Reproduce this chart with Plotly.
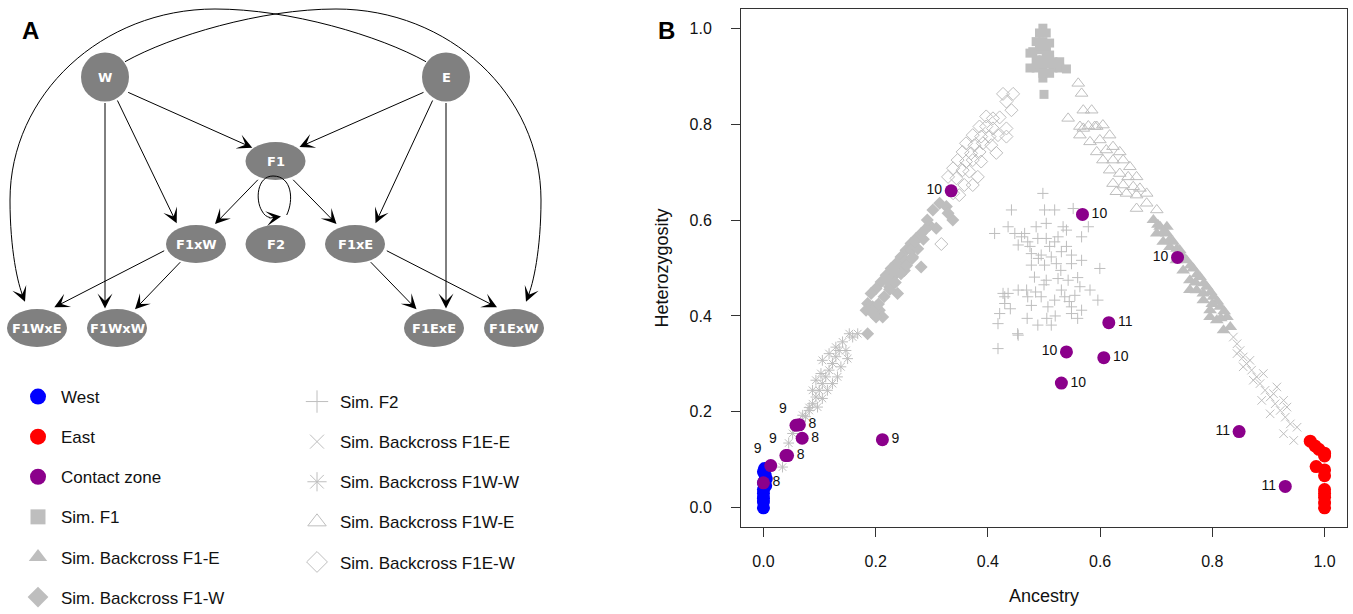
import plotly.graph_objects as go

# ======================= Panel B data =======================
west_x = [0.0, 0.0, 0.0, 0.0, 0.0, 0.004, 0.0, 0.005, 0.003, 0.0, 0.002]
west_y = [0.0, 0.012, 0.020, 0.030, 0.038, 0.046, 0.052, 0.060, 0.068, 0.075, 0.082]

east_x = [0.9745, 0.983, 0.990, 1.0, 1.0, 0.985, 1.0, 1.0, 1.0, 1.0, 1.0, 1.0, 1.0]
east_y = [0.139, 0.129, 0.122, 0.114, 0.108, 0.086, 0.079, 0.067, 0.038, 0.030, 0.022, 0.010, 0.0]

contact_x = [0.3346, 0.5686, 0.738, 0.6155, 0.540, 0.6066, 0.531, 0.8477, 0.930,
             0.058, 0.040, 0.013, 0.212, 0.064, 0.069, 0.043, 0.0]
contact_y = [0.661, 0.6117, 0.522, 0.386, 0.325, 0.313, 0.260, 0.159, 0.0445,
             0.172, 0.109, 0.088, 0.142, 0.173, 0.145, 0.109, 0.052]
contact_label = ["10", "10", "10", "11", "10", "10", "10", "11", "11",
                 "9", "9", "9", "9", "8", "8", "8", "8"]
contact_label_pos = ["middle left", "middle right", "middle left", "middle right", "middle left",
                     "middle right", "middle right", "middle left", "middle left",
                     "top left", "top left", "top left", "middle right",
                     "middle right", "middle right", "middle right", "middle right"]

f1_x = [0.498, 0.492, 0.504, 0.486, 0.498, 0.510, 0.480, 0.492, 0.504, 0.475, 0.516, 0.528, 0.486,
        0.498, 0.510, 0.475, 0.486, 0.498, 0.516, 0.528, 0.540, 0.498, 0.500, 0.492, 0.504, 0.510,
        0.522, 0.492, 0.504, 0.498, 0.510]
f1_y = [1.000, 0.990, 0.990, 0.972, 0.972, 0.969, 0.951, 0.955, 0.951, 0.948, 0.930, 0.930, 0.934,
        0.934, 0.934, 0.917, 0.917, 0.913, 0.917, 0.917, 0.915, 0.896, 0.862, 0.962, 0.962, 0.944,
        0.925, 0.925, 0.925, 0.906, 0.906]

bc_f1e_x = [0.695, 0.707, 0.719, 0.730, 0.742, 0.754, 0.766, 0.778, 0.790, 0.802, 0.814, 0.826, 0.832,
            0.701, 0.7125, 0.7245, 0.736, 0.748, 0.760, 0.772, 0.784, 0.796, 0.808, 0.820, 0.719,
            0.760, 0.784, 0.796, 0.703, 0.713, 0.725, 0.737, 0.749, 0.761, 0.773, 0.785, 0.797,
            0.809, 0.821, 0.740, 0.770, 0.800, 0.815]
bc_f1e_y = [0.600, 0.586, 0.572, 0.5545, 0.537, 0.516, 0.499, 0.481, 0.461, 0.440, 0.419, 0.398, 0.377,
            0.572, 0.5545, 0.544, 0.516, 0.495, 0.4745, 0.4537, 0.433, 0.412, 0.391, 0.370, 0.586,
            0.454, 0.447, 0.398, 0.590, 0.575, 0.560, 0.540, 0.522, 0.505, 0.487, 0.468, 0.450,
            0.430, 0.410, 0.530, 0.470, 0.425, 0.395]

bc_f1w_x = [0.302, 0.314, 0.326, 0.3375, 0.329, 0.296, 0.308, 0.290, 0.281, 0.272, 0.263, 0.254, 0.245,
            0.236, 0.2275, 0.2186, 0.2096, 0.2007, 0.1918, 0.1857, 0.1829, 0.1946, 0.2066, 0.2125,
            0.2007, 0.2423, 0.254, 0.266, 0.281, 0.239, 0.2245, 0.2304, 0.2512, 0.263, 0.1857, 0.2007,
            0.215, 0.225, 0.235, 0.245, 0.255, 0.265, 0.275, 0.285, 0.195, 0.205, 0.220, 0.232,
            0.270, 0.292]
bc_f1w_y = [0.621, 0.635, 0.628, 0.600, 0.614, 0.589, 0.583, 0.5825, 0.572, 0.5616, 0.551, 0.537, 0.523,
            0.509, 0.499, 0.485, 0.471, 0.457, 0.447, 0.426, 0.412, 0.419, 0.412, 0.398,
            0.398, 0.509, 0.516, 0.523, 0.502, 0.447, 0.461, 0.481, 0.495, 0.537, 0.363, 0.419,
            0.440, 0.455, 0.470, 0.488, 0.505, 0.520, 0.540, 0.560, 0.405, 0.425, 0.475, 0.495,
            0.555, 0.600]

f2_x = [0.498, 0.442, 0.501, 0.519, 0.552, 0.412, 0.436, 0.448, 0.4655, 0.486, 0.504, 0.534, 0.540,
        0.579, 0.454, 0.471, 0.489, 0.504, 0.519, 0.567, 0.4775, 0.495, 0.513, 0.531, 0.549, 0.567,
        0.4775, 0.501, 0.522, 0.549, 0.5995, 0.483, 0.504, 0.525, 0.543, 0.564, 0.582, 0.436, 0.469,
        0.471, 0.495, 0.519, 0.537, 0.555, 0.596, 0.430, 0.4775, 0.507, 0.549, 0.567, 0.421, 0.418,
        0.489, 0.513, 0.454, 0.418, 0.454, 0.531, 0.549, 0.427, 0.453, 0.460, 0.475, 0.510, 0.525,
        0.540, 0.490, 0.530, 0.560, 0.500, 0.485, 0.545, 0.430, 0.440, 0.505, 0.560, 0.520, 0.470]
f2_y = [0.6555, 0.621, 0.621, 0.621, 0.624, 0.572, 0.586, 0.572, 0.572, 0.586, 0.593, 0.586, 0.579,
        0.586, 0.548, 0.5545, 0.5616, 0.5616, 0.5545, 0.565, 0.530, 0.527, 0.523, 0.534, 0.527, 0.516,
        0.506, 0.506, 0.509, 0.509, 0.499, 0.481, 0.4745, 0.478, 0.4745, 0.461, 0.454, 0.447, 0.454,
        0.440, 0.440, 0.433, 0.440, 0.443, 0.433, 0.426, 0.422, 0.419, 0.419, 0.412, 0.405, 0.384,
        0.381, 0.381, 0.360, 0.332, 0.454, 0.454, 0.405, 0.447, 0.363, 0.565, 0.545, 0.545, 0.565,
        0.545, 0.520, 0.495, 0.480, 0.465, 0.450, 0.430, 0.440, 0.415, 0.395, 0.395, 0.400, 0.395]

bc_f1ee_x = [0.8375, 0.844, 0.8495, 0.855, 0.861, 0.870, 0.879, 0.885, 0.894, 0.903, 0.912, 0.921,
             0.930, 0.939, 0.945, 0.951, 0.927, 0.909, 0.873, 0.855, 0.844, 0.867, 0.891, 0.915,
             0.933, 0.903, 0.888, 0.927]
bc_f1ee_y = [0.356, 0.342, 0.328, 0.3145, 0.3006, 0.287, 0.273, 0.259, 0.245, 0.231, 0.217, 0.203,
             0.189, 0.175, 0.1405, 0.168, 0.224, 0.238, 0.266, 0.294, 0.3215, 0.3075, 0.280, 0.252,
             0.210, 0.196, 0.224, 0.1545]

bc_f1ww_x = [0.153, 0.141, 0.135, 0.129, 0.123, 0.117, 0.111, 0.105, 0.0995, 0.0935, 0.0875, 0.0816,
             0.147, 0.150, 0.138, 0.132, 0.123, 0.114, 0.105, 0.0964, 0.159, 0.129, 0.117, 0.105,
             0.1025, 0.0935, 0.0875, 0.034, 0.052, 0.070, 0.0815, 0.168, 0.060, 0.075, 0.045]
bc_f1ww_y = [0.363, 0.346, 0.328, 0.315, 0.301, 0.287, 0.273, 0.259, 0.245, 0.231, 0.217, 0.203,
             0.328, 0.311, 0.294, 0.273, 0.259, 0.245, 0.228, 0.210, 0.356, 0.335, 0.3215, 0.3075,
             0.280, 0.266, 0.245, 0.085, 0.155, 0.193, 0.209, 0.363, 0.175, 0.190, 0.135]

bc_f1we_x = [0.561, 0.567, 0.543, 0.570, 0.585, 0.564, 0.579, 0.594, 0.570, 0.564, 0.5905, 0.605,
             0.582, 0.5995, 0.617, 0.611, 0.594, 0.623, 0.635, 0.605, 0.623, 0.641, 0.653, 0.617,
             0.635, 0.650, 0.665, 0.623, 0.641, 0.659, 0.671, 0.629, 0.647, 0.665, 0.683, 0.665,
             0.683, 0.701]
bc_f1we_y = [0.885, 0.864, 0.812, 0.829, 0.829, 0.795, 0.796, 0.795, 0.791, 0.777, 0.795, 0.798,
             0.763, 0.767, 0.777, 0.746, 0.742, 0.753, 0.742, 0.725, 0.725, 0.725, 0.711, 0.704,
             0.697, 0.690, 0.690, 0.676, 0.673, 0.6695, 0.666, 0.659, 0.6555, 0.652, 0.6555, 0.624,
             0.635, 0.621]

bc_f1ew_x = [0.427, 0.445, 0.433, 0.442, 0.397, 0.409, 0.421, 0.385, 0.397, 0.409, 0.433, 0.373,
             0.388, 0.403, 0.418, 0.433, 0.361, 0.376, 0.391, 0.406, 0.355, 0.370, 0.385, 0.415,
             0.346, 0.361, 0.373, 0.388, 0.338, 0.355, 0.367, 0.382, 0.329, 0.344, 0.358, 0.373,
             0.338, 0.349, 0.317]
bc_f1ew_y = [0.863, 0.863, 0.847, 0.829, 0.816, 0.812, 0.814, 0.795, 0.795, 0.791, 0.791, 0.777,
             0.774, 0.774, 0.777, 0.774, 0.760, 0.756, 0.760, 0.756, 0.742, 0.739, 0.742, 0.740,
             0.725, 0.722, 0.725, 0.722, 0.708, 0.704, 0.701, 0.690, 0.690, 0.687, 0.673, 0.673,
             0.656, 0.652, 0.550]

x_ticks = [0.0, 0.2, 0.4, 0.6, 0.8, 1.0]
x_tick_labels = ["0.0", "0.2", "0.4", "0.6", "0.8", "1.0"]
y_ticks = [0.0, 0.2, 0.4, 0.6, 0.8, 1.0]
y_tick_labels = ["0.0", "0.2", "0.4", "0.6", "0.8", "1.0"]

# ======================= Panel A layout (pixel units) =======================
node_names = ["W", "E", "F1", "F1xW", "F2", "F1xE", "F1WxE", "F1WxW", "F1ExE", "F1ExW"]
node_cx = [105, 446, 275.5, 196, 275.5, 355, 37, 117, 434, 514]
node_cy = [77, 77, 161, 244, 244, 244, 328, 328, 328, 328]
node_rx = [24, 24, 30, 30, 30, 30, 30, 30, 30, 30]
node_ry = [24.5, 24.5, 19, 19, 19, 19, 19, 19, 19, 19]

# straight edges: tail (x, y) -> head (x, y)
edge_segments = [
    (126.7, 91.7, 252.3, 147.7),   # W -> F1
    (425.0, 91.7, 299.5, 147.0),   # E -> F1
    (116.7, 99.0, 176.7, 223.3),   # W -> F1xW
    (433.3, 99.0, 375.5, 223.3),   # E -> F1xE
    (105.0, 101.5, 105.0, 308.5),  # W -> F1WxW
    (446.0, 101.5, 446.0, 308.5),  # E -> F1ExE
    (259.3, 178.3, 215.0, 224.0),  # F1 -> F1xW
    (291.7, 178.3, 336.5, 224.0),  # F1 -> F1xE
    (165.7, 250.0, 54.3, 307.3),   # F1xW -> F1WxE
    (181.7, 260.7, 135.0, 309.3),  # F1xW -> F1WxW
    (369.3, 260.7, 416.5, 309.3),  # F1xE -> F1ExE
    (385.3, 250.0, 497.0, 307.3),  # F1xE -> F1ExW
]
# curved edges (SVG paths) and their arrow heads (tail -> tip)
curve_paths = [
    "M 426,61.7 C 380,36 290,9 215,9 C 101.8,9 10,94.5 10,200 C 10,250 18,285 23,296",   # E -> F1WxE
    "M 125,61.7 C 171,36 261,9 336,9 C 449.2,9 541,94.5 541,200 C 541,250 533,285 528,296",  # W -> F1ExW
    "M 286.7,215 C 294,200 292,176 273,176 C 257,176 255,200 262,211 C 264,215 267,217 270,217.5",  # F1 -> F2
]
curve_heads = [
    (21.0, 292.0, 25.0, 301.7),
    (530.0, 292.0, 526.0, 301.7),
    (268.0, 218.3, 281.0, 216.5),
]

GRAY = "#bebebe"
NODE_GRAY = "#808080"
FONT = "Liberation Sans"
W_PX, H_PX = 1353, 614

fig = go.Figure()

# series: name, x, y, symbol, plot size, legend size, legend id, rank, filled
sim_series = [
    ("Sim. F1", f1_x, f1_y, "square", 9, 15, "legend", 4, True),
    ("Sim. Backcross F1-E", bc_f1e_x, bc_f1e_y, "triangle-up", 12, 16, "legend", 5, True),
    ("Sim. Backcross F1-W", bc_f1w_x, bc_f1w_y, "diamond", 10, 16, "legend", 6, True),
    ("Sim. F2", f2_x, f2_y, "cross-thin-open", 8, 16, "legend2", 1, False),
    ("Sim. Backcross F1E-E", bc_f1ee_x, bc_f1ee_y, "x-thin-open", 8.5, 14, "legend2", 2, False),
    ("Sim. Backcross F1W-W", bc_f1ww_x, bc_f1ww_y, "asterisk-open", 9, 16, "legend2", 3, False),
    ("Sim. Backcross F1W-E", bc_f1we_x, bc_f1we_y, "triangle-up-open", 11, 16, "legend2", 4, False),
    ("Sim. Backcross F1E-W", bc_f1ew_x, bc_f1ew_y, "diamond-open", 10, 16, "legend2", 5, False),
]


def marker_for(symbol, size, color, filled):
    if filled:
        return dict(symbol=symbol, size=size, color=color, line=dict(width=0))
    return dict(symbol=symbol, size=size, color=color, line=dict(width=1, color=color))


for name, xs, ys, sym, size, lsize, leg, rank, filled in sim_series:
    fig.add_trace(go.Scatter(x=xs, y=ys, mode="markers", name=name, showlegend=False,
                             marker=marker_for(sym, size, GRAY, filled),
                             xaxis="x", yaxis="y", hoverinfo="skip"))

obs_series = [("West", west_x, west_y, "#0000ff", 1),
              ("East", east_x, east_y, "#ff0000", 2),
              ("Contact zone", contact_x, contact_y, "#8b008b", 3)]
for name, xs, ys, col, rank in obs_series:
    fig.add_trace(go.Scatter(x=xs, y=ys, mode="markers", name=name, showlegend=False,
                             marker=marker_for("circle", 13, col, True),
                             xaxis="x", yaxis="y", hoverinfo="skip"))

# labels of contact-zone points (invisible markers keep the text beside each dot)
fig.add_trace(go.Scatter(x=contact_x, y=contact_y, mode="markers+text", text=contact_label,
                         textposition=contact_label_pos, showlegend=False,
                         marker=dict(size=13, color="rgba(0,0,0,0)", line=dict(width=0)),
                         textfont=dict(family=FONT, size=14, color="#111111"),
                         xaxis="x", yaxis="y", hoverinfo="skip"))

# legend entries (key symbols drawn larger, as in the original legend)
for name, xs, ys, col, rank in obs_series:
    fig.add_trace(go.Scatter(x=[None], y=[None], mode="markers", name=name,
                             marker=marker_for("circle", 16, col, True),
                             legend="legend", legendrank=rank, legendgroup=name,
                             xaxis="x", yaxis="y", hoverinfo="skip"))
for name, xs, ys, sym, size, lsize, leg, rank, filled in sim_series:
    fig.add_trace(go.Scatter(x=[None], y=[None], mode="markers", name=name,
                             marker=marker_for(sym, lsize, GRAY, filled),
                             legend=leg, legendrank=rank, legendgroup=name,
                             xaxis="x", yaxis="y", hoverinfo="skip"))

# ---------------- Panel A: nodes and edges ----------------
shapes = []
for cx, cy, rx, ry in zip(node_cx, node_cy, node_rx, node_ry):
    shapes.append(dict(type="circle", xref="x2", yref="y2", x0=cx - rx, x1=cx + rx,
                       y0=cy - ry, y1=cy + ry, fillcolor=NODE_GRAY, line=dict(width=0),
                       layer="above"))
for p in curve_paths:
    shapes.append(dict(type="path", xref="x2", yref="y2", path=p,
                       line=dict(color="black", width=1), layer="above"))

annotations = []
for (tx, ty, hx, hy) in edge_segments + curve_heads:
    annotations.append(dict(x=hx, y=hy, ax=tx, ay=ty, xref="x2", yref="y2", axref="x2",
                            ayref="y2", text="", showarrow=True, arrowhead=3, arrowsize=2.5,
                            arrowwidth=1, arrowcolor="black", standoff=0, startstandoff=0))
for name, cx, cy in zip(node_names, node_cx, node_cy):
    annotations.append(dict(x=cx, y=cy, xref="x2", yref="y2", text="<b>%s</b>" % name,
                            showarrow=False, font=dict(family="DejaVu Sans", size=13, color="white")))

for letter, lx, ly in [("A", 30.5, 30), ("B", 666, 30)]:
    annotations.append(dict(x=lx / W_PX, y=1 - ly / H_PX, xref="paper", yref="paper",
                            xanchor="center", yanchor="middle", text="<b>%s</b>" % letter,
                            showarrow=False, font=dict(family=FONT, size=24, color="black")))

axis_common = dict(showgrid=False, zeroline=False, showline=True, mirror=True, linecolor="#333333",
                   linewidth=1, ticks="outside", ticklen=9, tickwidth=1, tickcolor="#333333",
                   tickfont=dict(family=FONT, size=16, color="#111111"), range=[-0.04, 1.04],
                   automargin=False, fixedrange=True)

legend_common = dict(xref="container", yref="container", xanchor="left", yanchor="top",
                     itemwidth=36, tracegroupgap=15, bgcolor="rgba(0,0,0,0)", traceorder="grouped",
                     font=dict(family=FONT, size=17, color="#111111"))

fig.update_layout(
    width=W_PX, height=H_PX, margin=dict(l=0, r=0, t=0, b=0, autoexpand=False),
    paper_bgcolor="white", plot_bgcolor="white",
    xaxis=dict(domain=[741 / W_PX, 1347 / W_PX], tickvals=x_ticks, ticktext=x_tick_labels,
               ticklabelstandoff=11,
               title=dict(text="Ancestry", standoff=20, font=dict(family=FONT, size=18, color="#111111")),
               **axis_common),
    yaxis=dict(domain=[1 - 527 / H_PX, 1 - 9 / H_PX], tickvals=y_ticks, ticktext=y_tick_labels,
               ticklabelstandoff=16,
               title=dict(text="Heterozygosity", standoff=16, font=dict(family=FONT, size=18, color="#111111")),
               **axis_common),
    xaxis2=dict(domain=[0, 600 / W_PX], range=[0, 600], visible=False, anchor="y2", fixedrange=True),
    yaxis2=dict(domain=[0, 1], range=[H_PX, 0], visible=False, anchor="x2", fixedrange=True),
    shapes=shapes, annotations=annotations,
    legend=dict(x=15 / W_PX, y=1 - 379 / H_PX, **legend_common),
    legend2=dict(x=294 / W_PX, y=1 - 384 / H_PX, **legend_common),
    showlegend=True,
)

fig.write_html("out.html", config={"displayModeBar": False},
               post_script="document.body.style.margin='0px';document.body.style.padding='0px';")
